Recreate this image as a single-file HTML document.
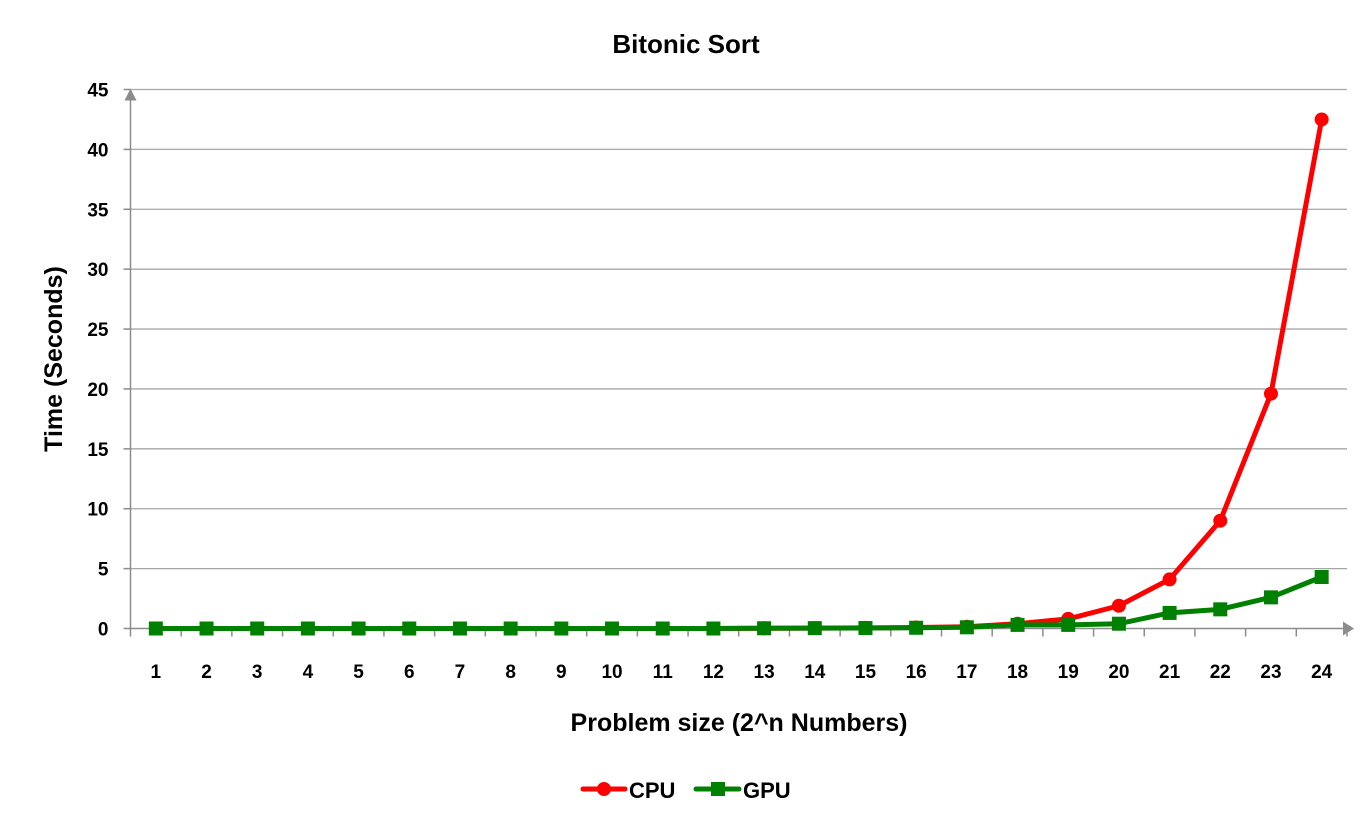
<!DOCTYPE html>
<html><head><meta charset="utf-8"><style>
html,body{margin:0;padding:0;background:#fff;}
svg{display:block;font-family:"Liberation Sans",sans-serif;font-weight:bold;}
</style></head><body>
<svg id="chart" width="1372" height="825" viewBox="0 0 1372 825" xmlns="http://www.w3.org/2000/svg">
<text x="686" y="53" text-anchor="middle" font-size="26">Bitonic Sort</text>
<g id="grid"></g>
<g id="axes"></g>
<g id="series"></g>
<text transform="translate(62,359) rotate(-90)" text-anchor="middle" font-size="25">Time (Seconds)</text>
<text x="739" y="731" text-anchor="middle" font-size="25">Problem size (2^n Numbers)</text>
<g>
 <g>
  <line x1="583" y1="789" x2="625" y2="789" stroke="#ff0000" stroke-width="5" stroke-linecap="round"/>
  <circle cx="604" cy="789" r="7" fill="#ff0000"/>
  <text x="629" y="798" font-size="22">CPU</text>
 </g>
 <g>
  <line x1="696" y1="789" x2="739" y2="789" stroke="#008000" stroke-width="5" stroke-linecap="round"/>
  <rect x="711" y="782" width="14" height="14" fill="#008000"/>
  <text x="743" y="798" font-size="22">GPU</text>
 </g>
</g>
</svg>
<script>
const categories = ["1","2","3","4","5","6","7","8","9","10","11","12","13","14","15","16","17","18","19","20","21","22","23","24"];
const cpuValues = [0,0,0,0,0,0,0,0,0,0,0,0,0.02,0.03,0.05,0.08,0.15,0.4,0.8,1.9,4.1,9.0,19.6,42.5];
const gpuValues = [0,0,0,0,0,0,0,0,0,0,0,0,0.02,0.03,0.04,0.06,0.1,0.3,0.3,0.4,1.3,1.6,2.6,4.3];
const yTicks = [0,5,10,15,20,25,30,35,40,45];

const NS="http://www.w3.org/2000/svg";
const x0=130.5, x1=1347, y0=628.5, yTop=89.5, yMax=45;
const step=(x1-x0)/categories.length;
const xs=i=>x0+step*(i+0.5);
const ys=v=>y0-(v/yMax)*(y0-yTop);
function mk(tag,attrs,parent){const e=document.createElementNS(NS,tag);for(const k in attrs)e.setAttribute(k,attrs[k]);parent.appendChild(e);return e;}
const grid=document.getElementById('grid'), axes=document.getElementById('axes'), series=document.getElementById('series');

yTicks.forEach(t=>{
  const y=ys(t);
  if(t>0){const g=mk('line',{x1:x0,x2:x1,y1:y,y2:y,stroke:'#a6a6a6','stroke-width':1.3},grid);
  
  }
  mk('line',{x1:x0-7,x2:x0,y1:y,y2:y,stroke:'#8c8c8c','stroke-width':1.5},axes);
  const lb=mk('text',{x:x0-22,y:y+7,'text-anchor':'end','font-size':19},axes);
  lb.textContent=t;
  
  
});
mk('line',{x1:x0,x2:x0,y1:y0+1,y2:yTop+5,stroke:'#8c8c8c','stroke-width':1.5},axes);
mk('path',{d:`M${x0-6},${yTop+11} L${x0},${yTop-1} L${x0+6},${yTop+11} Z`,fill:'#8c8c8c'},axes);
mk('line',{x1:x0-1,x2:x1,y1:y0,y2:y0,stroke:'#8c8c8c','stroke-width':1.5},axes);
mk('path',{d:`M${x1-4},${y0-7} L${x1+7},${y0} L${x1-4},${y0+7} Z`,fill:'#8c8c8c'},axes);
for(let i=0;i<=categories.length;i++){
  const x=x0+step*i;
  mk('line',{x1:x,x2:x,y1:y0,y2:y0+8,stroke:'#8c8c8c','stroke-width':1.5},axes);
}
categories.forEach((c,i)=>{
  const lb=mk('text',{x:xs(i),y:678,'text-anchor':'middle','font-size':19},axes);
  lb.textContent=c;
  
  
});

function drawLine(vals,color,name){
  const d=vals.map((v,i)=>(i?'L':'M')+xs(i)+','+ys(v)).join(' ');
  const p=mk('path',{d:d,fill:'none',stroke:color,'stroke-width':5,'stroke-linejoin':'round'},series);
  
  
}
drawLine(cpuValues,'#ff0000','cpu');
drawLine(gpuValues,'#008000','gpu');
cpuValues.forEach((v,i)=>{
  const c=mk('circle',{cx:xs(i),cy:ys(v),r:7,fill:'#ff0000'},series);
  
  
});
gpuValues.forEach((v,i)=>{
  const r=mk('rect',{x:xs(i)-7,y:ys(v)-7,width:14,height:14,fill:'#008000'},series);
  
  
});
</script>
</body></html>
